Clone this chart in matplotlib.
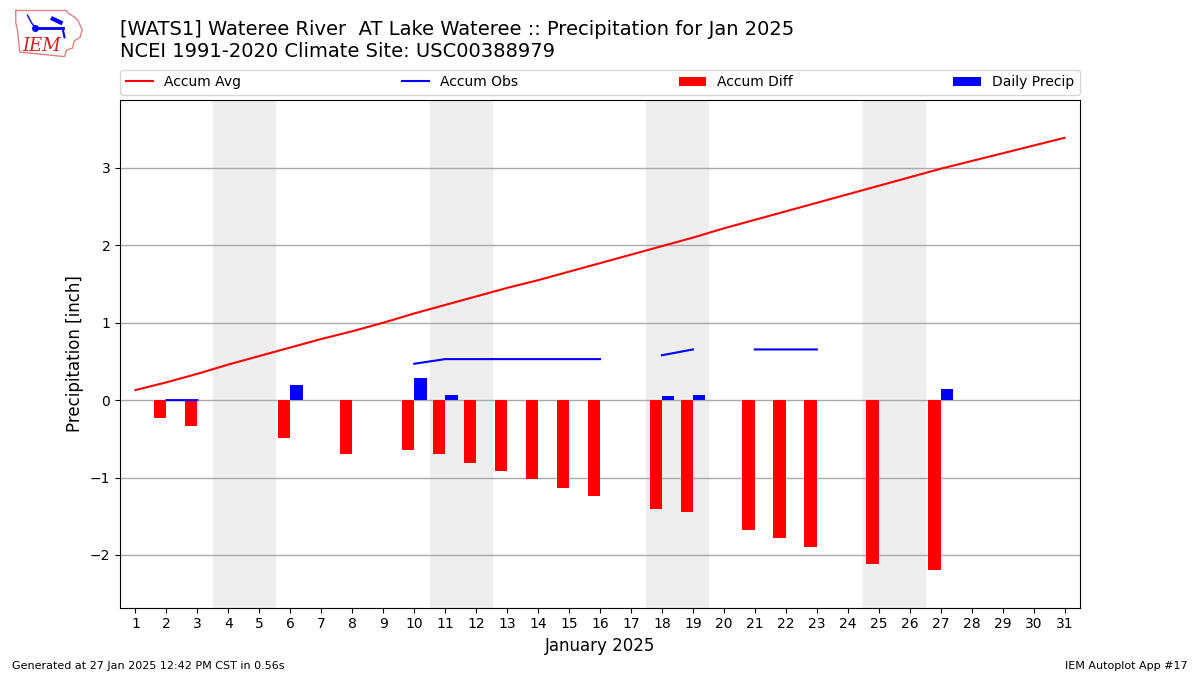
import numpy as np
import matplotlib
matplotlib.use("Agg")
import matplotlib.pyplot as plt

days = list(range(1, 32))
accum_avg = [0.13, 0.23, 0.34, 0.46, 0.57, 0.68, 0.79, 0.89, 1.00, 1.12,
             1.23, 1.34, 1.45, 1.55, 1.66, 1.77, 1.88, 1.99, 2.10, 2.22,
             2.33, 2.44, 2.55, 2.66, 2.77, 2.88, 2.99, 3.09, 3.19, 3.29, 3.39]
nan = np.nan
accum_obs = [nan, 0.00, 0.00, nan, nan, 0.19, nan, 0.19, nan, 0.47,
             0.53, 0.53, 0.53, 0.53, 0.53, 0.53, nan, 0.58, 0.655, nan,
             0.655, 0.655, 0.655, nan, 0.655, nan, 0.80, nan, nan, nan, nan]
daily_precip = [0, 0, 0, 0, 0, 0.19, 0, 0, 0, 0.28,
                0.065, 0, 0, 0, 0, 0, 0, 0.05, 0.065, 0,
                0, 0, 0, 0, 0, 0, 0.14, 0, 0, 0, 0]
weekends = [4, 11, 18, 25]

x = np.array(days)
avg = np.array(accum_avg)
obs = np.array(accum_obs, dtype=float)
diff = obs - avg
precip = np.array(daily_precip)

fig = plt.figure(figsize=(12, 6.75), dpi=100)
ax = fig.add_axes([0.1, 0.1, 0.8, 0.752])

for w in weekends:
    ax.axvspan(w - 0.5, w + 1.5, color="#eeeeee", zorder=0)

l1, = ax.plot(x, avg, color="red", lw=1.5, label="Accum Avg", zorder=3)
l2, = ax.plot(x, obs, color="blue", lw=1.5, label="Accum Obs", zorder=3)
b1 = ax.bar(x, np.nan_to_num(diff), width=-0.4, align="edge", color="red",
            label="Accum Diff", zorder=2)
b2 = ax.bar(x, precip, width=0.4, align="edge", color="blue",
            label="Daily Precip", zorder=2)

ax.set_xlim(0.5, 31.5)
ax.set_ylim(-2.68, 3.88)
ax.set_xticks(days)
ax.set_yticks([-2, -1, 0, 1, 2, 3])
ax.grid(axis="y", color="#aaaaaa", lw=1)
ax.set_axisbelow(True)
ax.set_xlabel("January 2025", fontsize=12)
ax.set_ylabel("Precipitation [inch]", fontsize=12)

ax.legend(handles=[l1, l2, b1, b2], loc="lower left",
          bbox_to_anchor=(0, 1.01, 1, 0.05), ncol=4, mode="expand",
          borderaxespad=0, fontsize=10)

fig.text(0.1, 0.957, "[WATS1] Wateree River  AT Lake Wateree :: Precipitation for Jan 2025",
         fontsize=14, va="center", ha="left")
fig.text(0.1, 0.924, "NCEI 1991-2020 Climate Site: USC00388979",
         fontsize=14, va="center", ha="left")

fig.text(0.01, 0.013, "Generated at 27 Jan 2025 12:42 PM CST in 0.56s",
         fontsize=8, ha="left", va="center")
fig.text(0.99, 0.013, "IEM Autoplot App #17", fontsize=8, ha="right", va="center")

# simple logo (Iowa-like outline with IEM text)
lax = fig.add_axes([0.005, 0.912, 0.065, 0.082])
lax.set_xlim(0, 80)
lax.set_ylim(60, 0)
lax.axis("off")
outline_x = [10, 62, 64, 70, 74, 78, 76, 70, 68, 62, 60, 14, 12, 10, 10]
outline_y = [7, 7, 10, 14, 18, 28, 36, 40, 48, 50, 57, 52, 30, 20, 7]
lax.plot(outline_x, outline_y, color="#e08080", lw=1)
lax.plot([30, 58], [26, 26], color="blue", lw=2)
lax.plot([30], [26], "o", color="blue", ms=4)
lax.plot([22, 26, 30], [12, 20, 26], color="blue", lw=1)
lax.plot([48, 56], [16, 20], color="blue", lw=3)
lax.plot([58, 60], [26, 36], color="blue", lw=1.5)
lax.text(37, 45, "IEM", fontsize=13, color="#cc2222", family="DejaVu Serif",
         style="italic", ha="center", va="center")

fig.savefig("out.png", dpi=100)
